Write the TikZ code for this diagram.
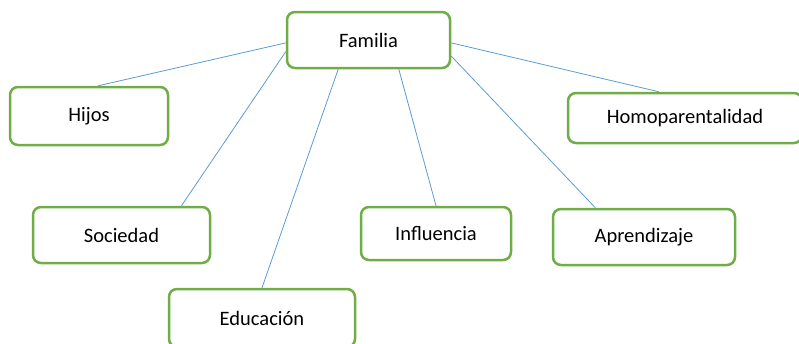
\documentclass[tikz,border=0pt]{standalone}
\usepackage{fontspec}
\setmainfont{Carlito}
\usetikzlibrary{positioning, backgrounds}
\definecolor{cgreen}{HTML}{70AD47}
\definecolor{cblue}{HTML}{5B9BD5}
\tikzset{
  every picture/.style={x=1pt, y=-1pt},
  box/.style={draw=cgreen, fill=white, line width=2.5pt, rounded corners=8pt, align=center,
              inner sep=0pt, font=\fontsize{20.5}{24}\selectfont},
  link/.style={draw=cblue, line width=0.8pt},
}
\begin{document}
\begin{tikzpicture}
  \useasboundingbox (0,0) rectangle (799,343);
  \clip (0,0) rectangle (799,343);
  % ---------- nodes ----------
  \node[box, minimum width=163pt, minimum height=56pt] (familia) at (368.5,40) {Familia};
  \node[box, minimum width=158pt, minimum height=58pt] (hijos) at (89,116) {Hijos};
  \node[box, minimum width=234pt, minimum height=50pt] (homo) at (685,118) {Homoparentalidad};
  \node[box, minimum width=177pt, minimum height=56pt] (sociedad) at (121.5,235) {Sociedad};
  \node[box, minimum width=186pt, minimum height=58pt] (educacion) at (262,318) {Educación};
  \node[box, minimum width=150pt, minimum height=53pt] (influencia) at (436,233.5) {Influencia};
  \node[box, minimum width=182pt, minimum height=56pt] (aprendizaje) at (644,237) {Aprendizaje};
  % ---------- links ----------
  \begin{scope}[on background layer]
    \draw[link] (familia.182) -- (hijos.73);
    \draw[link] (familia.188) -- (sociedad.26);
    \draw[link] (familia.224.5) -- (educacion.north);
    \draw[link] (familia.316.5) -- (influencia.north);
    \draw[link] (familia.349.6) -- (aprendizaje.149);
    \draw[link] (familia.358) -- (homo.135);
  \end{scope}
\end{tikzpicture}
\end{document}
